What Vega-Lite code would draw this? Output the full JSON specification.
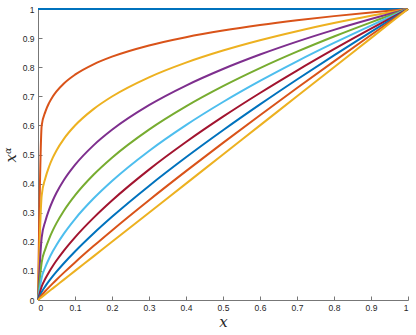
{
  "$schema": "https://vega.github.io/schema/vega-lite/v6.json",
  "autosize": "none",
  "width": 370,
  "height": 291,
  "padding": {"left": 38, "top": 9, "right": 8, "bottom": 35},
  "background": "white",
  "config": {
    "view": {"stroke": null},
    "axis": {
      "grid": false,
      "domainColor": "#777777",
      "tickColor": "#777777",
      "tickSize": -4,
      "labelFont": "Liberation Sans",
      "labelFontSize": 8.5,
      "labelColor": "#262626",
      "titleFont": "DejaVu Serif",
      "titleFontStyle": "italic",
      "titleFontWeight": "normal",
      "titleFontSize": 15,
      "titleColor": "#262626"
    }
  },
  "data": {
    "values": [
      {"x": 0, "a0": 1, "a1": 0, "a2": 0, "a3": 0, "a4": 0, "a5": 0, "a6": 0, "a7": 0, "a8": 0, "a9": 0},
      {"x": 0.01, "a0": 1, "a1": 0.59948, "a2": 0.35938, "a3": 0.21544, "a4": 0.12915, "a5": 0.07742, "a6": 0.046416, "a7": 0.027825, "a8": 0.016681, "a9": 0.01},
      {"x": 0.02, "a0": 1, "a1": 0.64748, "a2": 0.41923, "a3": 0.27144, "a4": 0.17575, "a5": 0.1138, "a6": 0.07368, "a7": 0.047706, "a8": 0.030889, "a9": 0.02},
      {"x": 0.03, "a0": 1, "a1": 0.67732, "a2": 0.45876, "a3": 0.31073, "a4": 0.21046, "a5": 0.14255, "a6": 0.096553, "a7": 0.065397, "a8": 0.044295, "a9": 0.03},
      {"x": 0.04, "a0": 1, "a1": 0.69932, "a2": 0.48905, "a3": 0.342, "a4": 0.23917, "a5": 0.16726, "a6": 0.11696, "a7": 0.081793, "a8": 0.0572, "a9": 0.04},
      {"x": 0.05, "a0": 1, "a1": 0.71687, "a2": 0.5139, "a3": 0.3684, "a4": 0.26409, "a5": 0.18932, "a6": 0.13572, "a7": 0.097294, "a8": 0.069747, "a9": 0.05},
      {"x": 0.07, "a0": 1, "a1": 0.74418, "a2": 0.5538, "a3": 0.41213, "a4": 0.3067, "a5": 0.22824, "a6": 0.16985, "a7": 0.1264, "a8": 0.094064, "a9": 0.07},
      {"x": 0.1, "a0": 1, "a1": 0.77426, "a2": 0.59948, "a3": 0.46416, "a4": 0.35938, "a5": 0.27826, "a6": 0.21544, "a7": 0.16681, "a8": 0.12915, "a9": 0.1},
      {"x": 0.15, "a0": 1, "a1": 0.80994, "a2": 0.656, "a3": 0.53132, "a4": 0.43034, "a5": 0.34855, "a6": 0.2823, "a7": 0.22865, "a8": 0.18519, "a9": 0.15},
      {"x": 0.2, "a0": 1, "a1": 0.83625, "a2": 0.69931, "a3": 0.5848, "a4": 0.48904, "a5": 0.40896, "a6": 0.34199, "a7": 0.28599, "a8": 0.23916, "a9": 0.2},
      {"x": 0.3, "a0": 1, "a1": 0.87479, "a2": 0.76526, "a3": 0.66943, "a4": 0.58561, "a5": 0.51229, "a6": 0.44814, "a7": 0.39203, "a8": 0.34294, "a9": 0.3},
      {"x": 0.4, "a0": 1, "a1": 0.9032, "a2": 0.81577, "a3": 0.73681, "a4": 0.66549, "a5": 0.60107, "a6": 0.54289, "a7": 0.49034, "a8": 0.44288, "a9": 0.4},
      {"x": 0.5, "a0": 1, "a1": 0.92588, "a2": 0.85725, "a3": 0.7937, "a4": 0.73487, "a5": 0.6804, "a6": 0.62996, "a7": 0.58327, "a8": 0.54004, "a9": 0.5},
      {"x": 0.6, "a0": 1, "a1": 0.94482, "a2": 0.89268, "a3": 0.84343, "a4": 0.79689, "a5": 0.75292, "a6": 0.71137, "a7": 0.67212, "a8": 0.63503, "a9": 0.6},
      {"x": 0.7, "a0": 1, "a1": 0.96114, "a2": 0.92379, "a3": 0.8879, "a4": 0.8534, "a5": 0.82024, "a6": 0.78837, "a7": 0.75773, "a8": 0.72829, "a9": 0.7},
      {"x": 0.8, "a0": 1, "a1": 0.97551, "a2": 0.95162, "a3": 0.92832, "a4": 0.90559, "a5": 0.88341, "a6": 0.86178, "a7": 0.84068, "a8": 0.82009, "a9": 0.8},
      {"x": 0.9, "a0": 1, "a1": 0.98836, "a2": 0.97686, "a3": 0.96549, "a4": 0.95425, "a5": 0.94314, "a6": 0.93217, "a7": 0.92132, "a8": 0.9106, "a9": 0.9},
      {"x": 1, "a0": 1, "a1": 1, "a2": 1, "a3": 1, "a4": 1, "a5": 1, "a6": 1, "a7": 1, "a8": 1, "a9": 1}
    ]
  },
  "transform": [
    {"fold": ["a0", "a1", "a2", "a3", "a4", "a5", "a6", "a7", "a8", "a9"], "as": ["alpha", "y"]}
  ],
  "mark": {"type": "line", "strokeWidth": 2, "interpolate": "monotone", "clip": false},
  "encoding": {
    "x": {
      "field": "x", "type": "quantitative",
      "scale": {"domain": [0, 1], "nice": false},
      "axis": {"values": [0, 0.1, 0.2, 0.3, 0.4, 0.5, 0.6, 0.7, 0.8, 0.9, 1], "labelExpr": "'' + datum.value", "title": "x", "labelPadding": 7, "titlePadding": 3}
    },
    "y": {
      "field": "y", "type": "quantitative",
      "scale": {"domain": [0, 1], "nice": false},
      "axis": {"values": [0, 0.1, 0.2, 0.3, 0.4, 0.5, 0.6, 0.7, 0.8, 0.9, 1], "labelExpr": "'' + datum.value", "title": "xᵅ", "labelPadding": 8, "titlePadding": 4}
    },
    "color": {
      "field": "alpha", "type": "nominal", "legend": null,
      "scale": {
        "domain": ["a0", "a1", "a2", "a3", "a4", "a5", "a6", "a7", "a8", "a9"],
        "range": ["#0072BD", "#D95319", "#EDB120", "#7E2F8E", "#77AC30", "#4DBEEE", "#A2142F", "#0072BD", "#D95319", "#EDB120"]
      }
    },
    "order": {"field": "x", "type": "quantitative"}
  }
}
